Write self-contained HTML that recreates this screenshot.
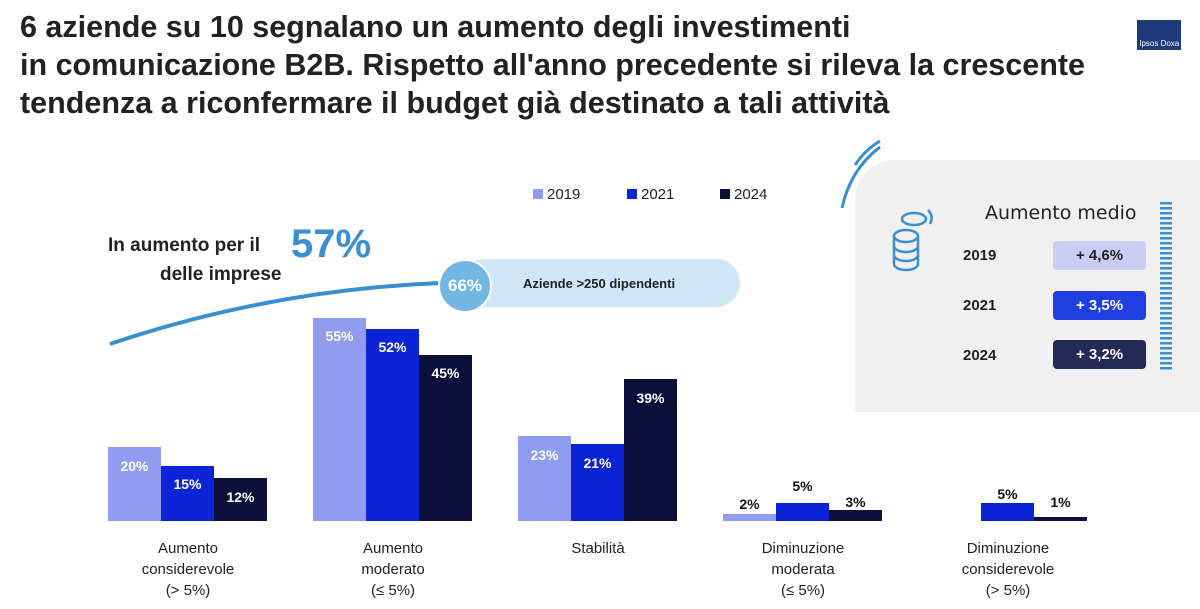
<!DOCTYPE html>
<html><head><meta charset="utf-8"><style>
body{margin:0;width:1200px;height:609px;background:#fff;font-family:"Liberation Sans",sans-serif;position:relative;overflow:hidden;color:#1a1a2e}
.a{position:absolute}
.t{left:20px;top:8px;font-size:30.5px;font-weight:bold;line-height:38px;color:#222;white-space:nowrap}
.bar{position:absolute;bottom:88px;width:53px}
.c1{background:#8f9cf0}.c2{background:#0a24d6}.c3{background:#0b0f3a}
.lb{position:absolute;width:53px;text-align:center;font-size:14px;font-weight:bold;color:#fff}
.lbd{color:#111}
.cat{position:absolute;top:538px;width:160px;text-align:center;font-size:15px;line-height:21px;color:#222}
.leg{font-size:15px;color:#222}
.sq{display:inline-block;width:10px;height:10px;margin-right:4px}
.pill{position:absolute;left:1053px;width:93px;height:29px;border-radius:4px;text-align:center;line-height:29px;font-size:15px;font-weight:bold}
.yr{position:absolute;left:963px;font-size:15px;font-weight:bold;color:#222}
</style></head><body>
<div class="a t">6 aziende su 10 segnalano un aumento degli investimenti<br>in comunicazione B2B. Rispetto all'anno precedente si rileva la crescente<br>tendenza a riconfermare il budget già destinato a tali attività</div>
<div class="a" style="left:1137px;top:20px;width:44px;height:30px;background:#1d3a7b;color:#fff;font-size:8px;line-height:48px">&nbsp;Ipsos Doxa</div>

<div class="a" style="left:855px;top:160px;width:360px;height:252px;background:#f0f0f0;border-radius:40px 0 0 0"></div>
<svg class="a" style="left:0;top:0" width="1200" height="609">
<path d="M842 208 Q850 170 880 147" stroke="#3a8fd0" stroke-width="3" fill="none"/>
<path d="M855 165 Q865 150 880 141" stroke="#3a8fd0" stroke-width="3" fill="none"/>
<path d="M110 344 Q270 290 440 283" stroke="#3a8fd0" stroke-width="4" fill="none"/>
<line x1="1166" y1="202" x2="1166" y2="372" stroke="#3a8fd0" stroke-dasharray="2.5 2.5" stroke-width="12"/>
<g fill="none" stroke="#3a8fd0" stroke-width="2.5">
<ellipse cx="914" cy="219" rx="12" ry="6"/><ellipse cx="906" cy="236" rx="12" ry="6"/>
<path d="M894 236 v28 a12 6 0 0 0 24 0 v-28 M894 246 a12 6 0 0 0 24 0 M894 255 a12 6 0 0 0 24 0"/>
<path d="M928 210 q6 6 2 14"/>
</g>
</svg>
<div class="a" style="left:985px;top:202px;font-size:19px;font-family:'DejaVu Sans',sans-serif;color:#222">Aumento medio</div>
<div class="yr" style="top:247px">2019</div><div class="pill" style="top:241px;background:#c9ccf3;color:#222">+ 4,6%</div>
<div class="yr" style="top:297px">2021</div><div class="pill" style="top:291px;background:#1f3fe0;color:#fff">+ 3,5%</div>
<div class="yr" style="top:347px">2024</div><div class="pill" style="top:340px;background:#222a55;color:#fff">+ 3,2%</div>

<div class="a leg" style="left:533px;top:186px"><span class="sq c1"></span>2019</div>
<div class="a leg" style="left:627px;top:186px"><span class="sq c2"></span>2021</div>
<div class="a leg" style="left:720px;top:186px"><span class="sq c3"></span>2024</div>

<div class="a" style="left:108px;top:235px;font-size:19px;font-weight:bold;color:#222">In aumento per il</div>
<div class="a" style="left:291px;top:222px;font-size:40px;font-weight:bold;color:#3a8fd0">57%</div>
<div class="a" style="left:160px;top:264px;font-size:19px;font-weight:bold;color:#222">delle imprese</div>
<div class="a" style="left:460px;top:259px;width:280px;height:48px;border-radius:24px;background:#cfe7f6"></div>
<div class="a" style="left:438px;top:259px;width:50px;height:50px;border-radius:50%;background:#72b6e4;border:2px solid #fff;color:#fff;font-weight:bold;font-size:17px;text-align:center;line-height:50px">66%</div>
<div class="a" style="left:523px;top:276px;font-size:13px;font-weight:bold;color:#222">Aziende &gt;250 dipendenti</div>

<div class="bar c1" style="left:108px;height:74px"></div><div class="lb" style="left:108px;top:458px">20%</div>
<div class="bar c2" style="left:161px;height:55px"></div><div class="lb" style="left:161px;top:476px">15%</div>
<div class="bar c3" style="left:214px;height:43px"></div><div class="lb" style="left:214px;top:489px">12%</div>
<div class="bar c1" style="left:313px;height:203px"></div><div class="lb" style="left:313px;top:328px">55%</div>
<div class="bar c2" style="left:366px;height:192px"></div><div class="lb" style="left:366px;top:339px">52%</div>
<div class="bar c3" style="left:419px;height:166px"></div><div class="lb" style="left:419px;top:365px">45%</div>
<div class="bar c1" style="left:518px;height:85px"></div><div class="lb" style="left:518px;top:447px">23%</div>
<div class="bar c2" style="left:571px;height:77px"></div><div class="lb" style="left:571px;top:455px">21%</div>
<div class="bar c3" style="left:624px;height:142px"></div><div class="lb" style="left:624px;top:390px">39%</div>
<div class="bar c1" style="left:723px;height:7px"></div><div class="lb lbd" style="left:723px;top:496px">2%</div>
<div class="bar c2" style="left:776px;height:18px"></div><div class="lb lbd" style="left:776px;top:478px">5%</div>
<div class="bar c3" style="left:829px;height:11px"></div><div class="lb lbd" style="left:829px;top:494px">3%</div>
<div class="bar c2" style="left:981px;height:18px"></div><div class="lb lbd" style="left:981px;top:486px">5%</div>
<div class="bar c3" style="left:1034px;height:4px"></div><div class="lb lbd" style="left:1034px;top:494px">1%</div>

<div class="cat" style="left:108px">Aumento<br>considerevole<br>(&gt; 5%)</div>
<div class="cat" style="left:313px">Aumento<br>moderato<br>(≤ 5%)</div>
<div class="cat" style="left:518px">Stabilità</div>
<div class="cat" style="left:723px">Diminuzione<br>moderata<br>(≤ 5%)</div>
<div class="cat" style="left:928px">Diminuzione<br>considerevole<br>(&gt; 5%)</div>
</body></html>
